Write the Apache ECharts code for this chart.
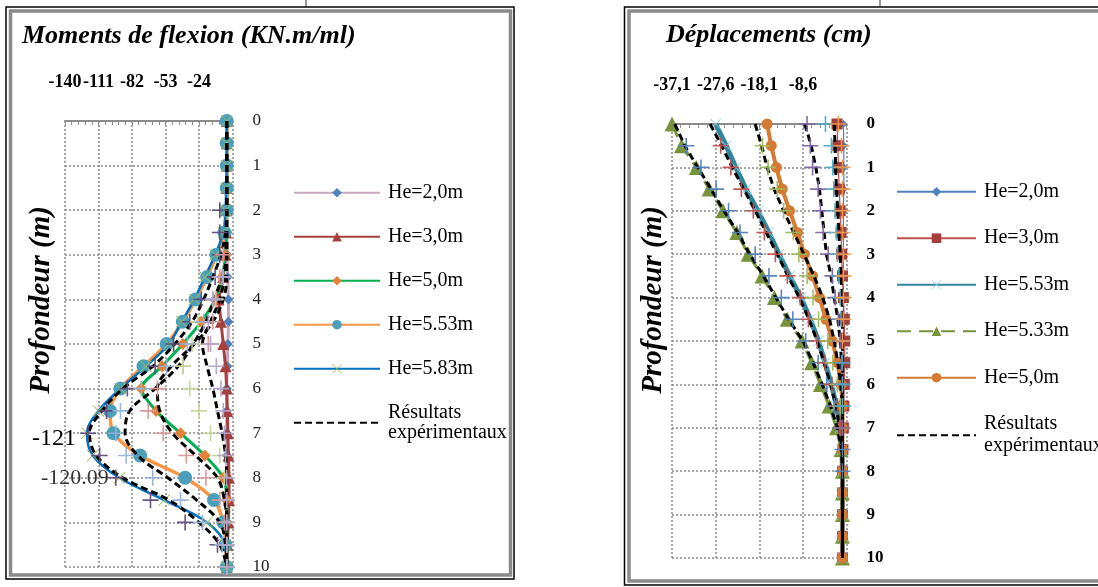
<!DOCTYPE html>
<html><head><meta charset="utf-8">
<script src="https://cdn.jsdelivr.net/npm/echarts@6/dist/echarts.min.js"></script>
<style>html,body{margin:0;padding:0;background:#fff}#c{width:1098px;height:587px}</style>
</head><body><div id="c"></div>
<script>
// ---------- DATA ----------
const depths = [0,0.5,1,1.5,2,2.5,3,3.5,4,4.5,5,5.5,6,6.5,7,7.5,8,8.5,9,9.5,10];

// Left panel: Moments de flexion (KN.m/ml)
const ticksMoment = [-140,-111,-82,-53,-24,5];
const h20L  = [0,0,0,0,0,0,0.3,0.8,1.5,1.5,1,0.5,0,0,0,0,0,0,0,0,0];
const h30L  = [0,0,0,0,0,-0.5,-1,-3,-7,-5,-3,-1,0,0.5,1,1.5,2,2,1.5,0.5,0];
const h50L  = [0,0,0,0,0,0,-1,-4,-10,-22,-38,-56,-74,-61,-40,-19,-3,0,0,0,0];
const h553L = [0,0,0,0,0,-2,-9,-17,-27,-38,-52,-72,-92,-101,-98,-75,-36,-11,-3,-1,0];
const h583L = [0,0,0,-0.5,-1,-3,-10,-19,-28,-39,-50,-70,-92,-111,-121,-116,-93,-54,-17,-1.5,0];
const exp1L = [0,0,0,0,0,-1,-5,-12,-20,-30,-45,-64,-90,-108,-119,-113,-90,-50,-24,-6,0];
const exp2L = [0,0,0,0,0,0,0,-4,-11,-18,-29,-42,-62,-84,-88,-77,-51,-26,-6,-1,0];
const exp3L = [0,0,0,0,0,0,0,0,-3,-12,-28,-48,-60,-58,-47,-27,-8,-2,0,0,0];
const exp4L = [0,0,0,0,0,0,0,-2,-6,-14,-21,-17,-12,-8,-4,-1,0,0,0,0,0];
const cr1L = [null,null,null,null,-6,-6,-6,-10,-22,-32,-46,-62,-86,-104,-120,-110,-96,-66,-36,-8,0];
const cr2L = [null,null,null,null,null,null,-3,-6,-9,-12,-16,-38,-60,-68,-55,-35,-18,-6,-2,0,0];
const cr3L = [null,null,null,null,null,null,null,-3,-10,-25,-30,-38,-32,-24,-14,-6,-2,0,0,0,0];
const cr4L = [null,null,null,null,null,null,null,-4,-12,-20,-34,-52,-74,-92,-96,-87,-64,-40,-21,-4,0];
const cr5L = [null,null,null,null,null,null,null,-3,-12,-16,-14,-9,-5,-3,-2,-1,0,0,0,0,0];
const expLabel = {depth: 8, text: '-120.09'};

// Right panel: Déplacements (cm)
const ticksDisp = [-37.1,-27.6,-18.1,-8.6,0.9];
const h20R  = [0.2,0.3,0.3,0.3,0.2,0.2,0.2,0.2,0.2,0.2,0.2,0.2,0.1,0.1,0,0,0,0,0,0,0];
const h30R  = [-1.2,-1.0,-0.9,-0.7,-0.5,-0.3,-0.2,0,0.2,0.4,0.5,0.5,0.4,0.3,0.2,0.1,0,0,0,0,0];
const h553R = [-27.6,-25.3,-23.2,-21,-18.4,-16,-13.8,-11.5,-9,-7,-5.2,-3.8,-2.4,-1.3,-0.5,-0.1,0,0,0,0,0];
const h533R = [-37.1,-35,-31.8,-29,-26,-23,-20.5,-17.5,-14.8,-12,-8.8,-6.7,-4.8,-2.9,-1.3,-0.3,0,0,0,0,0];
const h50R  = [-16.4,-15.5,-14.4,-13.1,-11.5,-9.8,-8.3,-6.5,-5,-3.6,-2.2,-1.1,-0.3,0,0,0,0,0,0,0,0];
const exp1R = [-36.5,-34.3,-31.5,-28.6,-25.8,-22.8,-20.2,-17.2,-14.5,-11.7,-8.6,-6.4,-4.4,-2.6,-1.1,-0.2,0,0,0,0,0];
const exp2R = [-28.8,-26.3,-24,-21.5,-19,-16.6,-14.2,-11.9,-9.4,-7.3,-5.5,-4,-2.6,-1.4,-0.6,-0.1,0,0,0,0,0];
const exp3R = [-19,-17.6,-16.4,-14.9,-12.8,-10.6,-8.4,-6.2,-4.3,-2.8,-1.8,-1,-0.4,0,0,0,0,0,0,0,0];
const exp4R = [-8.2,-6.8,-5.8,-5,-4.5,-4,-3.5,-2.5,-1.8,-1,-0.5,-0.2,0,0,0,0,0,0,0,0,0];
const exp5R = [-1.8,-1.6,-1.5,-1.3,-1,-0.8,-0.5,-0.3,-0.1,0,0,0,0,0,0,0,0,0,0,0,0];
const cr1R = [null,-34,-30.8,-27.5,-24.8,-22.3,-19,-16,-13.3,-10.8,-8,-5.3,-3.4,-1.8,-0.6,0,0,null,null,null,null];
const cr2R = [null,-26.5,-24.3,-22,-19.4,-17,-14.6,-12,-9.2,-7.4,-5.5,-3.8,-2.3,-1.1,-0.4,null,null,null,null,null,null];
const cr3R = [null,-17.4,-16.2,-14.2,-12.8,-10.7,-9.5,-7.7,-6.4,-5.2,-3.2,-2.1,-1.1,-0.5,0,null,null,null,null,null,null];
const cr4R = [-7.7,-7,-6.5,-5.3,-4.8,-4.2,-3.1,-2.2,-1.6,-0.9,-0.5,-0.2,0,0,0,null,null,null,null,null,null];
const cr5R = [-3.7,-2.4,-2.1,-1.9,-1.6,-1.3,-1.1,-0.8,-0.5,-0.3,0,0,0,0,null,null,null,null,null,null,null];
const cr6R = [-0.9,-0.2,0,0,0,0,0.2,0.2,0.2,0.2,0,null,null,null,null,null,null,null,null,null,null];

const namesL = ['He=2,0m','He=3,0m','He=5,0m','He=5.53m','He=5.83m','Résultats\nexpérimentaux'];
const namesR = ['He=2,0m\u200b','He=3,0m\u200b','He=5.53m\u200b','He=5.33m\u200b','He=5,0m\u200b','Résultats\nexpérimentaux\u200b'];
const titleL = 'Moments de flexion (KN.m/ml)';
const titleR = 'Déplacements (cm)';
const depthName = 'Profondeur (m)';

// ---------- STYLE ----------
const SERIF = 'Liberation Serif';
const PLUS = 'path://M9,0h2v9h9v2h-9v9h-2v-9h-9v-2h9z';
const XMARK = 'path://M1,0L10,9L19,0L20,1L11,10L20,19L19,20L10,11L1,20L0,19L9,10L0,1Z';
const GRID_LINE = {color:'#8a8a8a', width:1.5, type:[2,2]};

function pts(vals){ return depths.map((d,i)=>[vals[i], d]); }
function lineS(name, vals, g, o){
  return Object.assign({type:'line', name, xAxisIndex:g, yAxisIndex:g*2, data:pts(vals), z:2}, o);
}
function expS(name, vals, g, smooth){
  return {type:'line', name, xAxisIndex:g, yAxisIndex:g*2, data:pts(vals), symbol:'none', smooth,
    lineStyle:{color:'#000', width:3, type:[7,4]}, itemStyle:{color:'#000'}, z:3};
}
function crossS(vals, g, color){
  return {type:'scatter', name:'_c'+color, xAxisIndex:g, yAxisIndex:g*2,
    data: depths.map((d,i)=>[vals[i], d]).filter(p=>p[0]!=null),
    symbol:PLUS, symbolSize:16, itemStyle:{color, opacity:0.95}, z:4};
}

const series = [
  lineS(namesL[0], h20L, 0, {symbol:'diamond', symbolSize:10, itemStyle:{color:'#4f81bd'}, lineStyle:{color:'#c6a8bc', width:3}}),
  lineS(namesL[1], h30L, 0, {symbol:'triangle', symbolSize:12, itemStyle:{color:'#a5403e'}, lineStyle:{color:'#a5403e', width:3}}),
  lineS(namesL[2], h50L, 0, {symbol:'diamond', symbolSize:12, smooth:0.3, itemStyle:{color:'#e3813a'}, lineStyle:{color:'#00b050', width:3}}),
  lineS(namesL[3], h553L, 0, {symbol:'circle', symbolSize:14, smooth:0.3, itemStyle:{color:'#4a9fba'}, lineStyle:{color:'#f79646', width:3.5}}),
  lineS(namesL[4], h583L, 0, {symbol:XMARK, symbolSize:12, smooth:0.35, itemStyle:{color:'#9bbb59'}, lineStyle:{color:'#0070c0', width:2.5}}),
  expS(namesL[5], exp1L, 0, 0.35),
  expS(namesL[5], exp2L, 0, 0.35),
  expS(namesL[5], exp3L, 0, 0.35),
  expS(namesL[5], exp4L, 0, 0.35),
  crossS(cr1L, 0, '#604a7b'),
  crossS(cr2L, 0, '#d99694'),
  crossS(cr3L, 0, '#c3d69b'),
  crossS(cr4L, 0, '#95b3d7'),
  crossS(cr5L, 0, '#b3a2c7'),

  lineS(namesR[0], h20R, 1, {symbol:'diamond', symbolSize:8, itemStyle:{color:'#4f81bd'}, lineStyle:{color:'#4f81bd', width:1.2}}),
  lineS(namesR[1], h30R, 1, {symbol:'rect', symbolSize:11, itemStyle:{color:'#a23f3c'}, lineStyle:{color:'#c0504d', width:1.2}}),
  lineS(namesR[3], h533R, 1, {symbol:'triangle', symbolSize:15, itemStyle:{color:'#77933c'}, lineStyle:{color:'#77933c', width:3, type:[14,8]}}),
  lineS(namesR[2], h553R, 1, {symbol:XMARK, symbolSize:11, itemStyle:{color:'#8fcfe2'}, lineStyle:{color:'#31859c', width:5}}),
  lineS(namesR[4], h50R, 1, {symbol:'circle', symbolSize:11, itemStyle:{color:'#d47a33'}, lineStyle:{color:'#d47a33', width:4}}),
  expS(namesR[5], exp1R, 1, false),
  expS(namesR[5], exp2R, 1, false),
  expS(namesR[5], exp3R, 1, false),
  expS(namesR[5], exp4R, 1, false),
  expS(namesR[5], exp5R, 1, false),
  crossS(cr1R, 1, '#4f81bd'),
  crossS(cr2R, 1, '#c0504d'),
  crossS(cr3R, 1, '#9bbb59'),
  crossS(cr4R, 1, '#8064a2'),
  crossS(cr5R, 1, '#4bacc6'),
  crossS(cr6R, 1, '#f79646')
];

// data labels: minimum of He=5.83m and the experimental value label
const lblStyle = {show:true, color:'#000', fontFamily:SERIF, fontSize:24};
const iMin = h583L.indexOf(Math.min(...h583L));
series[4].data[iMin] = {value: series[4].data[iMin],
  label: Object.assign({}, lblStyle, {position:'left', formatter: String(h583L[iMin]), distance:5, offset:[0,6]})};
const iExp = depths.indexOf(expLabel.depth);
// invisible scatter point carrying the experimental value label
series.push({
  type:'scatter', name:'_lbl', xAxisIndex:0, yAxisIndex:0, z:6, silent:true,
  symbol:'circle', symbolSize:2, itemStyle:{color:'rgba(0,0,0,0)'},
  data:[{value:[exp1L[iExp], depths[iExp]],
    label: Object.assign({}, lblStyle, {position:'left', distance:13, fontSize:22, formatter: expLabel.text})}]
});

function xAxisCfg(g, ticks, fmt){
  return {
    type:'value', gridIndex:g, position:'top',
    min: ticks[0], max: ticks[ticks.length-1], interval: ticks[1]-ticks[0],
    axisLine:{show:true, onZero:false, lineStyle:{color:'#8c8c8c', width:2}},
    axisTick:{show:true, inside:true, length:4, lineStyle:{color:'#8c8c8c', width:1}},
    minorTick:{show:true, splitNumber:5, length:4, lineStyle:{color:'#8c8c8c', width:1}},
    axisLabel:{margin:30, color:'#000', fontFamily:SERIF, fontWeight:'bold', fontSize:18, showMaxLabel:false, formatter:fmt},
    splitLine:{show:true, lineStyle:GRID_LINE}
  };
}
function yAxisCfg(g, bold){
  return {
    type:'value', gridIndex:g, position:'right', inverse:true, min:0, max:10, interval:1,
    axisLine:{show:false}, axisTick:{show:false},
    axisLabel:{margin:20, color: bold ? '#000' : '#222', fontFamily:SERIF, fontWeight: bold ? 'bold' : 'normal', fontSize:17},
    splitLine:{show:true, lineStyle:GRID_LINE}
  };
}
function nameAxis(g){
  return {type:'value', gridIndex:g, show:false, min:0, max:10};
}
function legendCfg(names, left, top, itemWidth, gap, lh){
  return {
    data: names.map((n,i)=> i === names.length-1 ? {name:n, itemStyle:{opacity:0}} : n),
    orient:'vertical', left, top, padding:0, itemWidth, itemHeight:12, itemGap:gap,
    selectedMode:false,
    textStyle:{fontFamily:SERIF, fontSize:20, color:'#000', lineHeight:lh, padding:[0,0,0,3]}
  };
}
const titleFont = {fontFamily:SERIF, fontStyle:'italic', fontWeight:'bold', fontSize:26, color:'#000'};
const nameFont = 'italic bold 29px "Liberation Serif"';

const option = {
  animation:false,
  backgroundColor:'#fff',
  title:[
    {text:titleL, left:22, top:23, padding:0, textStyle:titleFont},
    {text:titleR, left:666, top:22, padding:0, textStyle:titleFont}
  ],
  grid:[
    {left:65, top:121, width:167.5, height:446},
    {left:672, top:124, width:174.6, height:434}
  ],
  xAxis:[
    xAxisCfg(0, ticksMoment, v => String(Math.round(v))),
    xAxisCfg(1, ticksDisp, v => v.toFixed(1).replace('.', ','))
  ],
  yAxis:[yAxisCfg(0,false), nameAxis(0), yAxisCfg(1,true), nameAxis(1)],
  legend:[
    legendCfg(namesL, 293, 182.7, 86, 24, 20),
    legendCfg(namesR, 896, 180.7, 79, 24.5, 22)
  ],
  graphic:[
    {type:'rect', silent:true, shape:{x:6, y:7, width:508, height:572}, style:{fill:'none', stroke:'#000', lineWidth:1.5}},
    {type:'rect', silent:true, shape:{x:10.5, y:11, width:500, height:564}, style:{fill:'none', stroke:'#8a8a8a', lineWidth:3.5}},
    {type:'rect', silent:true, shape:{x:624.5, y:7, width:500, height:578}, style:{fill:'none', stroke:'#000', lineWidth:1.5}},
    {type:'rect', silent:true, shape:{x:629, y:11, width:500, height:570}, style:{fill:'none', stroke:'#8a8a8a', lineWidth:3.5}},
    {type:'line', silent:true, shape:{x1:306, y1:0, x2:306, y2:7}, style:{stroke:'#333', lineWidth:1}},
    {type:'line', silent:true, shape:{x1:880, y1:0, x2:880, y2:7}, style:{stroke:'#333', lineWidth:1}},
    {type:'text', silent:true, x:42, y:300, rotation:Math.PI/2,
     style:{text:depthName, font:nameFont, fill:'#000', align:'center', verticalAlign:'middle'}},
    {type:'text', silent:true, x:654, y:300, rotation:Math.PI/2,
     style:{text:depthName, font:nameFont, fill:'#000', align:'center', verticalAlign:'middle'}}
  ],
  series
};
const chart = echarts.init(document.getElementById('c'), null, {renderer:'canvas'});
chart.setOption(option);
</script>
</body></html>
